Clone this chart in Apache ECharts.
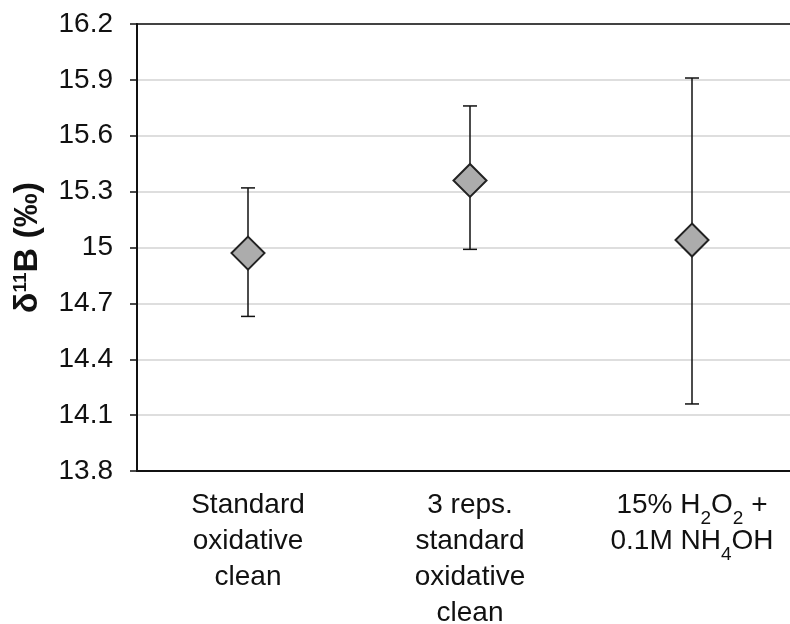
<!DOCTYPE html>
<html>
<head>
<meta charset="utf-8">
<script src="https://cdn.jsdelivr.net/npm/echarts@6/dist/echarts.min.js"></script>
<style>
  html, body { margin: 0; padding: 0; background: #fff; }
  #chart { width: 790px; height: 624px; }
</style>
</head>
<body>
<div id="chart"></div>
<script>
// categories (H2O2 / NH4OH subscripts use rich text)
var categories = [
    'Standard\noxidative\nclean',
    '3 reps.\nstandard\noxidative\nclean',
    '15% H{sub|2}O{sub|2} +\n0.1M NH{sub|4}OH'
];
// mean d11B values and error bar ends
var means = [14.97, 15.36, 15.04];
var lower = [14.63, 14.99, 14.16];
var upper = [15.32, 15.76, 15.91];
// y ticks
var yMin = 13.8, yMax = 16.2, yStep = 0.3;

var errData = categories.map(function (c, i) {
    return [i, lower[i], upper[i]];
});

var chart = echarts.init(document.getElementById('chart'));
chart.setOption({
    backgroundColor: '#fff',
    animation: false,
    grid: {
        left: 137, top: 24, width: 666, height: 447,
        containLabel: false,
        outerBoundsMode: 'none'
    },
    xAxis: [{
        type: 'category',
        data: categories,
        axisLine: { lineStyle: { color: '#111', width: 2 } },
        axisTick: { alignWithLabel: true, length: 7, lineStyle: { color: '#111', width: 1.5 } },
        axisLabel: {
            color: '#111',
            fontFamily: 'Liberation Sans',
            fontSize: 28,
            lineHeight: 36,
            margin: 16,
            interval: 0,
            rich: {
                sub: { fontSize: 19, fontFamily: 'Liberation Sans', color: '#111', verticalAlign: 'bottom', height: 8 }
            }
        },
        splitLine: { show: false }
    }, {
        // top frame line
        type: 'category',
        position: 'top',
        data: categories,
        axisLine: { show: true, lineStyle: { color: '#111', width: 1.5 } },
        axisTick: { show: false },
        axisLabel: { show: false },
        splitLine: { show: false }
    }],
    yAxis: {
        type: 'value',
        min: yMin, max: yMax, interval: yStep,
        name: 'δ{sup|11}B (‰)',
        nameLocation: 'middle',
        nameGap: 84,
        nameTextStyle: {
            color: '#111',
            fontFamily: 'Liberation Sans',
            fontWeight: 'bold',
            fontSize: 34,
            lineHeight: 40,
            rich: {
                sup: { fontSize: 19, fontWeight: 'bold', fontFamily: 'Liberation Sans', color: '#111', verticalAlign: 'top', height: 26 }
            }
        },
        axisLine: { show: true, lineStyle: { color: '#111', width: 2 } },
        axisTick: { show: true, length: 7, lineStyle: { color: '#111', width: 1.5 } },
        axisLabel: { color: '#111', fontFamily: 'Liberation Sans', fontSize: 28, margin: 24 },
        splitLine: { lineStyle: { color: '#d3d3d3', width: 1.5 } }
    },
    series: [
        {
            type: 'custom',
            data: errData,
            z: 2,
            renderItem: function (params, api) {
                var x = api.value(0);
                var lo = api.coord([x, api.value(1)]);
                var hi = api.coord([x, api.value(2)]);
                var hw = 7;
                var st = { stroke: '#111', lineWidth: 1.5 };
                return {
                    type: 'group',
                    children: [
                        { type: 'line', shape: { x1: hi[0], y1: hi[1], x2: lo[0], y2: lo[1] }, style: st },
                        { type: 'line', shape: { x1: hi[0] - hw, y1: hi[1], x2: hi[0] + hw, y2: hi[1] }, style: st },
                        { type: 'line', shape: { x1: lo[0] - hw, y1: lo[1], x2: lo[0] + hw, y2: lo[1] }, style: st }
                    ]
                };
            }
        },
        {
            type: 'scatter',
            data: means,
            z: 3,
            symbol: 'diamond',
            symbolSize: 33,
            itemStyle: { color: '#acacac', borderColor: '#222', borderWidth: 2, opacity: 1 }
        }
    ]
});
</script>
</body>
</html>
